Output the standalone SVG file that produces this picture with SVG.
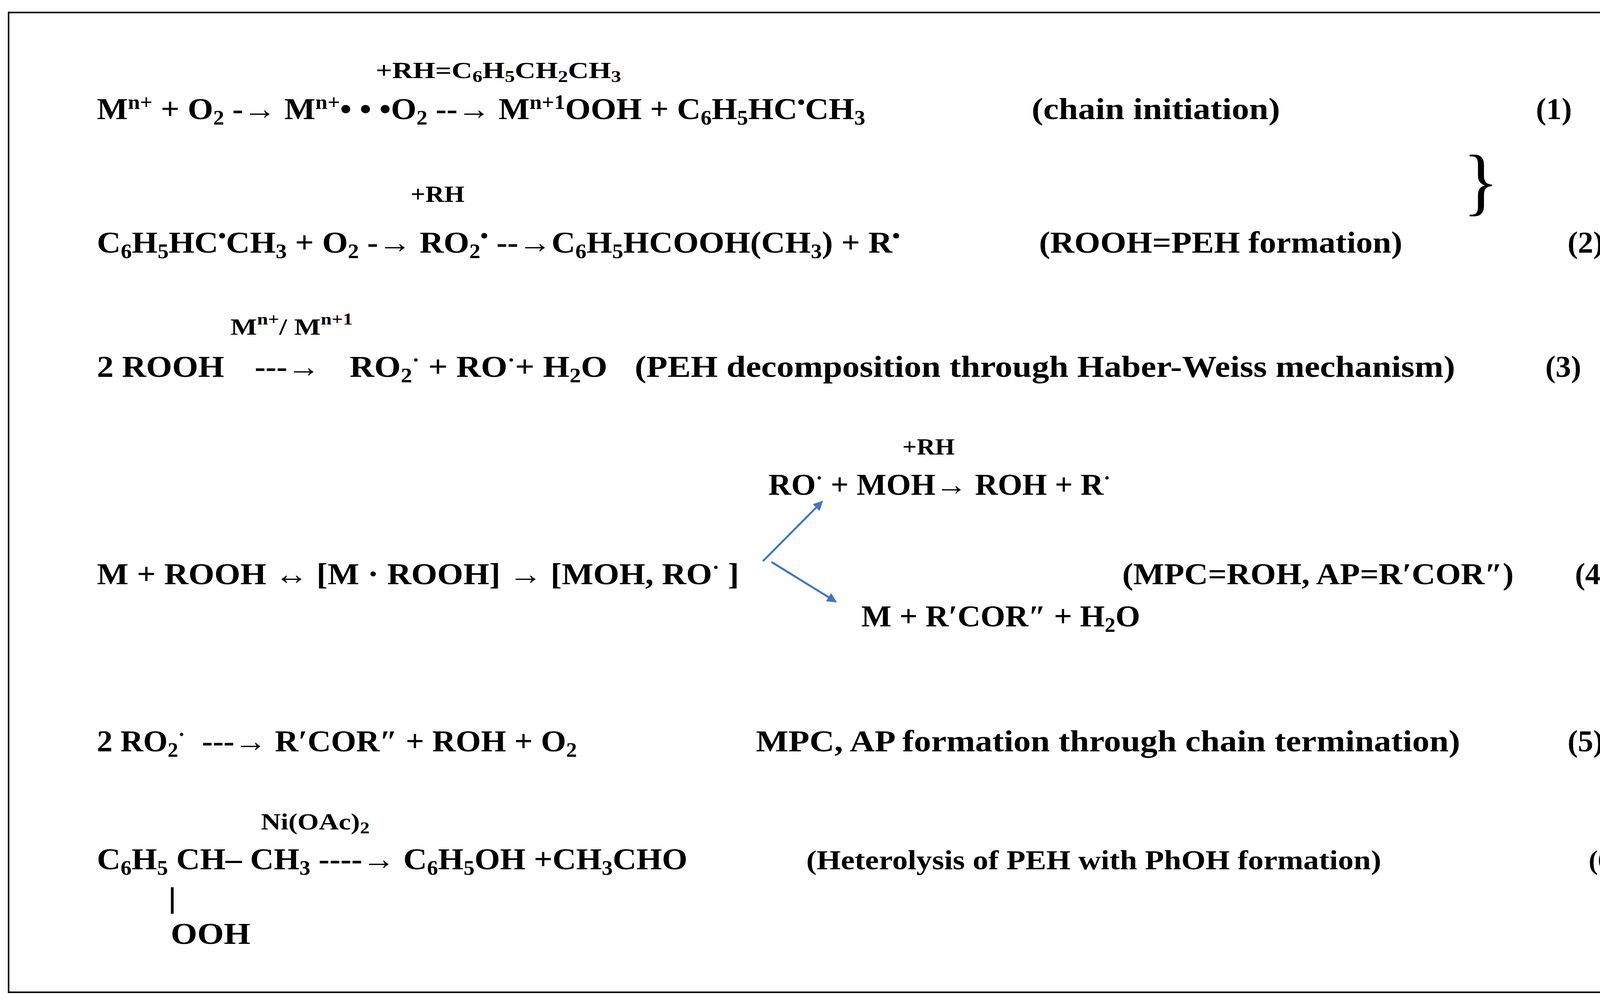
<svg xmlns="http://www.w3.org/2000/svg" width="4226" height="2571" viewBox="0 0 4226 2571">
<style>
text{font-family:"Liberation Serif","Times New Roman",serif;font-weight:bold;fill:#000;font-size:78px}
.s{font-size:60px}
.m{font-size:70px}
.b{baseline-shift:-14px;font-size:52px}
.p{baseline-shift:26px;font-size:52px}
.bs{baseline-shift:-10px;font-size:42px}
.brace{font-size:190px;font-weight:normal}
</style>
<defs>
<marker id="ah" viewBox="0 0 10 10" refX="9" refY="5" markerWidth="5" markerHeight="5" orient="auto" markerUnits="strokeWidth"><path d="M0,0L10,5L0,10z" fill="#4472C4"/></marker>
</defs>
<rect x="22" y="32" width="4182" height="2509" fill="#fff" stroke="#000" stroke-width="4"/>
<g id="eq1">
<text class="s" x="962" y="200" textLength="628" lengthAdjust="spacingAndGlyphs">+RH=C<tspan class="bs">6</tspan>H<tspan class="bs">5</tspan>CH<tspan class="bs">2</tspan>CH<tspan class="bs">3</tspan></text>
<text x="248" y="305" textLength="1967" lengthAdjust="spacingAndGlyphs">M<tspan class="p">n+</tspan> + O<tspan class="b">2</tspan> -→ M<tspan class="p">n+</tspan>• • •O<tspan class="b">2</tspan> --→ M<tspan class="p">n+1</tspan>OOH + C<tspan class="b">6</tspan>H<tspan class="b">5</tspan>HC<tspan class="p">•</tspan>CH<tspan class="b">3</tspan></text>
<text x="2641" y="305" textLength="636" lengthAdjust="spacingAndGlyphs">(chain initiation)</text>
<text x="3932" y="305" textLength="92" lengthAdjust="spacingAndGlyphs">(1)</text>
<text class="brace" x="3745" y="528">}</text>
</g>
<g id="eq2">
<text class="s" x="1051" y="517" textLength="138" lengthAdjust="spacingAndGlyphs">+RH</text>
<text x="248" y="647" textLength="2056" lengthAdjust="spacingAndGlyphs">C<tspan class="b">6</tspan>H<tspan class="b">5</tspan>HC<tspan class="p">•</tspan>CH<tspan class="b">3</tspan> + O<tspan class="b">2</tspan> -→ RO<tspan class="b">2</tspan><tspan class="p">•</tspan> --→C<tspan class="b">6</tspan>H<tspan class="b">5</tspan>HCOOH(CH<tspan class="b">3</tspan>) + R<tspan class="p">•</tspan></text>
<text x="2660" y="647" textLength="930" lengthAdjust="spacingAndGlyphs">(ROOH=PEH formation)</text>
<text x="4013" y="647" textLength="92" lengthAdjust="spacingAndGlyphs">(2)</text>
</g>
<g id="eq3">
<text class="s" x="590" y="857" textLength="313" lengthAdjust="spacingAndGlyphs">M<tspan class="p" style="font-size:42px">n+</tspan>/ M<tspan class="p" style="font-size:42px">n+1</tspan></text>
<text x="248" y="965" textLength="326" lengthAdjust="spacingAndGlyphs">2 ROOH</text>
<text x="652" y="965" textLength="167" lengthAdjust="spacingAndGlyphs">---→</text>
<text x="895" y="965" textLength="660" lengthAdjust="spacingAndGlyphs">RO<tspan class="b">2</tspan><tspan class="p">·</tspan>  +  RO<tspan class="p">·</tspan>+ H<tspan class="b">2</tspan>O</text>
<text x="1625" y="965" textLength="2100" lengthAdjust="spacingAndGlyphs">(PEH decomposition through Haber-Weiss mechanism)</text>
<text x="3956" y="965" textLength="92" lengthAdjust="spacingAndGlyphs">(3)</text>
</g>
<g id="eq4">
<text class="s" x="2310" y="1164" textLength="134" lengthAdjust="spacingAndGlyphs">+RH</text>
<text x="1967" y="1267" textLength="876" lengthAdjust="spacingAndGlyphs">RO<tspan class="p">·</tspan> + MOH→ ROH + R<tspan class="p">·</tspan></text>
<text x="248" y="1496" textLength="1644" lengthAdjust="spacingAndGlyphs">M + ROOH ↔ [M · ROOH] → [MOH, RO<tspan class="p">·</tspan> ]</text>
<text x="2205" y="1604" textLength="714" lengthAdjust="spacingAndGlyphs">M + R′COR″ + H<tspan class="b">2</tspan>O</text>
<text x="2873" y="1496" textLength="1002" lengthAdjust="spacingAndGlyphs">(MPC=ROH, AP=R′COR″)</text>
<text x="4032" y="1496" textLength="91" lengthAdjust="spacingAndGlyphs">(4)</text>
</g>
<g id="connectors" stroke="#4472C4" stroke-width="5" fill="none" marker-end="url(#ah)">
<line x1="1953" y1="1437" x2="2105" y2="1284"/>
<line x1="1975" y1="1439" x2="2140" y2="1541"/>
</g>
<g id="eq5">
<text x="248" y="1924" textLength="226" lengthAdjust="spacingAndGlyphs">2 RO<tspan class="b">2</tspan><tspan class="p">·</tspan></text>
<text x="517" y="1924" textLength="960" lengthAdjust="spacingAndGlyphs">---→ R′COR″ + ROH + O<tspan class="b">2</tspan></text>
<text x="1935" y="1924" textLength="1803" lengthAdjust="spacingAndGlyphs">MPC, AP formation through chain termination)</text>
<text x="4013" y="1924" textLength="92" lengthAdjust="spacingAndGlyphs">(5)</text>
</g>
<g id="eq6">
<text class="s" x="668" y="2124" textLength="278" lengthAdjust="spacingAndGlyphs">Ni(OAc)<tspan class="bs">2</tspan></text>
<text x="248" y="2226" textLength="1512" lengthAdjust="spacingAndGlyphs">C<tspan class="b">6</tspan>H<tspan class="b">5</tspan> CH– CH<tspan class="b">3</tspan> ----→ C<tspan class="b">6</tspan>H<tspan class="b">5</tspan>OH +CH<tspan class="b">3</tspan>CHO</text>
<line x1="441" y1="2272" x2="441" y2="2340" stroke="#000" stroke-width="7"/>
<text x="437" y="2417" textLength="204" lengthAdjust="spacingAndGlyphs">OOH</text>
<text class="m" x="2064" y="2226" textLength="1472" lengthAdjust="spacingAndGlyphs">(Heterolysis of PEH with PhOH formation)</text>
<text class="m" x="4067" y="2226" textLength="83" lengthAdjust="spacingAndGlyphs">(6)</text>
</g>
</svg>
